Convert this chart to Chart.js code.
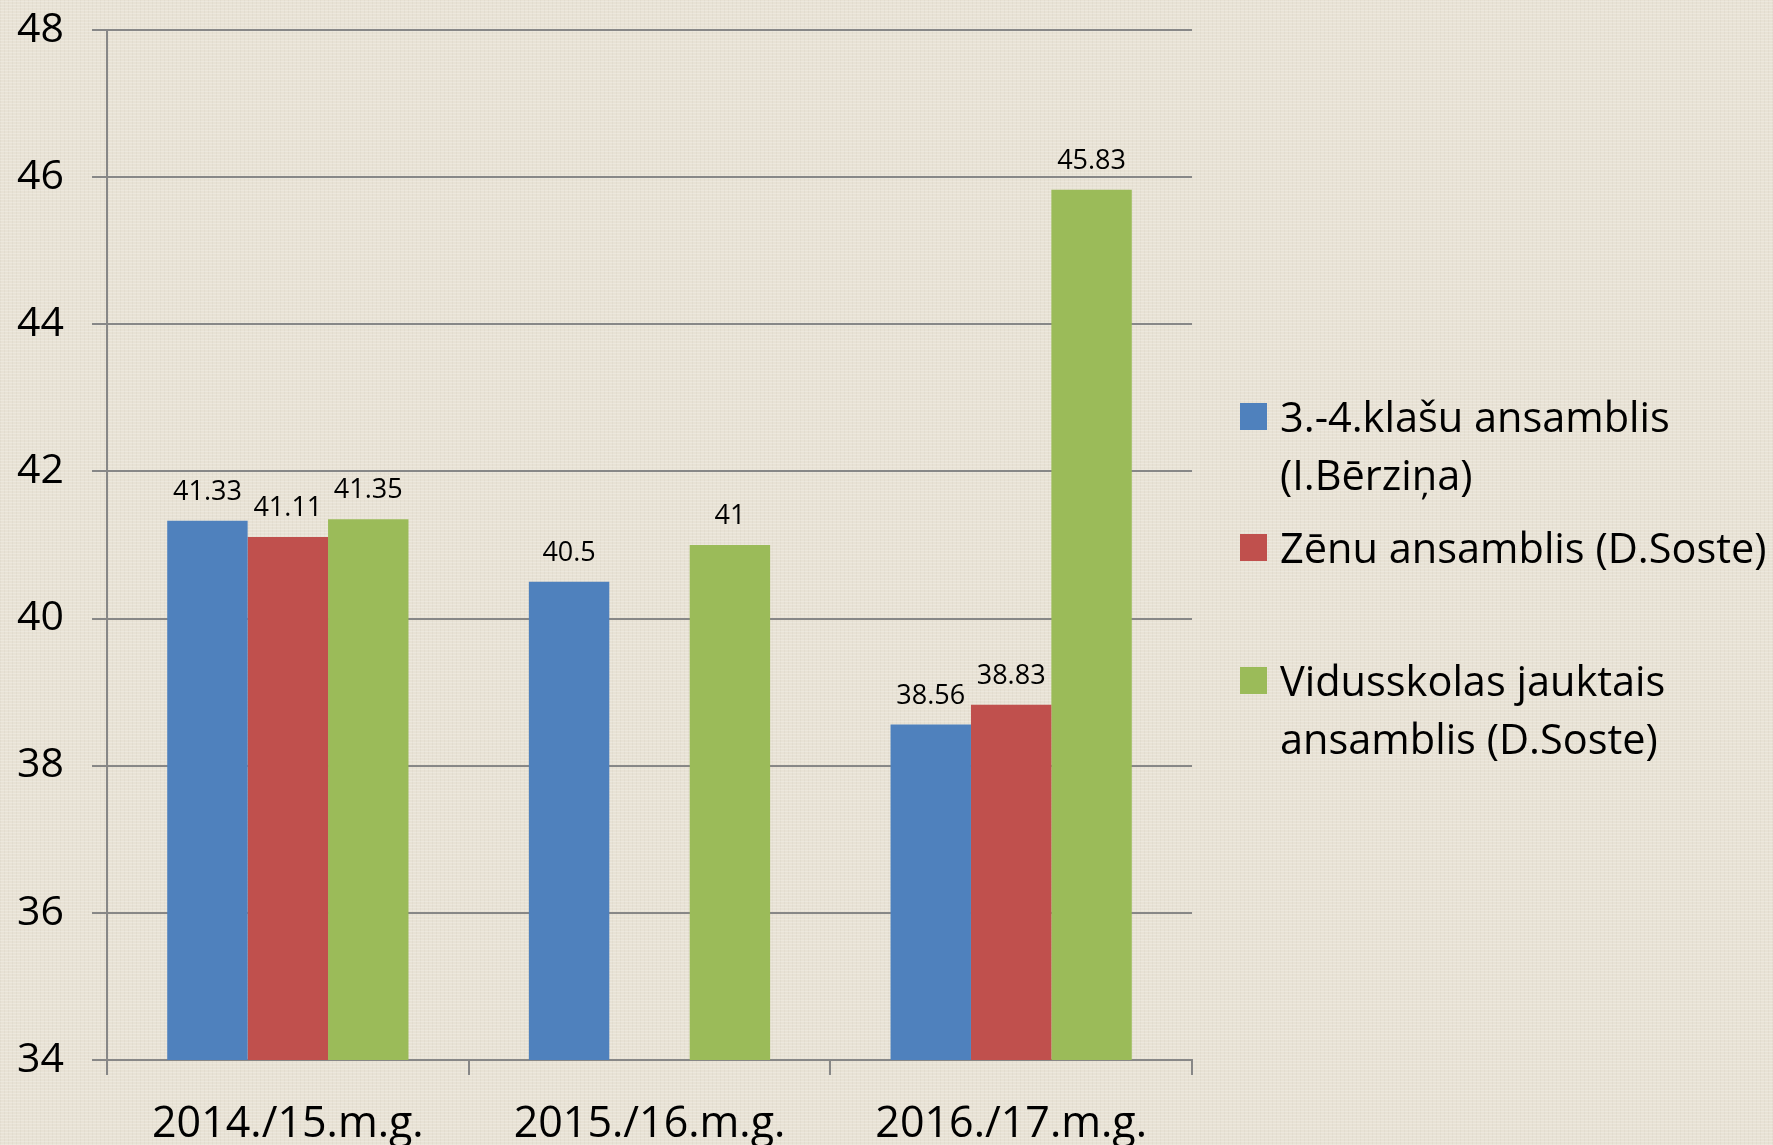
<!DOCTYPE html>
<html>
<head>
<meta charset="utf-8">
<script src="https://cdn.jsdelivr.net/npm/chart.js@4.4.1/dist/chart.umd.min.js"></script>
<style>
  html, body { margin: 0; padding: 0; }
  body {
    width: 1773px; height: 1145px; overflow: hidden; position: relative;
    background-color: #e8e2d5;
    background-image:
      repeating-linear-gradient(0deg, rgba(255,255,255,0.20) 0px, rgba(255,255,255,0.20) 1px, rgba(0,0,0,0) 1px, rgba(0,0,0,0) 3px),
      repeating-linear-gradient(90deg, rgba(120,110,90,0.05) 0px, rgba(120,110,90,0.05) 1px, rgba(0,0,0,0) 1px, rgba(0,0,0,0) 4px);
    font-family: "Open Sans", Lato, sans-serif;
  }
  #wrap { position: absolute; left: 0; top: 0; width: 1773px; height: 1145px; }
  #legend { position: absolute; left: 1240px; top: 0; width: 533px; }
  .item { position: absolute; left: 0; display: flex; align-items: flex-start; }
  .sw { width: 27px; height: 27px; margin-top: 16px; margin-right: 13px; flex: none; }
  .txt { font-size: 41.5px; line-height: 58px; color: #000; max-width: 500px; }
</style>
</head>
<body>
<div id="wrap"><canvas id="c" width="1773" height="1145"></canvas></div>
<div id="legend"></div>
<script>
const categories = ["2014./15.m.g.", "2015./16.m.g.", "2016./17.m.g."];
const seriesNames = ["3.-4.klašu ansamblis (I.Bērziņa)", "Zēnu ansamblis (D.Soste)", "Vidusskolas jauktais ansamblis (D.Soste)"];
const seriesBlue = [41.33, 40.5, 38.56];
const seriesRed = [41.11, null, 38.83];
const seriesGreen = [41.35, 41, 45.83];
const seriesColors = ["#4F81BD", "#C0504D", "#9BBB59"];
const yMin = 34, yMax = 48, yStep = 2;

const seriesValues = [seriesBlue, seriesRed, seriesGreen];
const datasets = seriesNames.map((n, i) => ({
  label: n,
  data: seriesValues[i],
  backgroundColor: seriesColors[i],
  borderWidth: 0,
  barPercentage: 1,
  categoryPercentage: 0.667
}));

const FONT = '"Open Sans", Lato, sans-serif';
const valueLabels = {
  id: 'valueLabels',
  afterDatasetsDraw(chart) {
    const ctx = chart.ctx;
    ctx.save();
    ctx.font = '27px ' + FONT;
    ctx.fillStyle = '#000';
    ctx.textAlign = 'center';
    ctx.textBaseline = 'alphabetic';
    chart.data.datasets.forEach((ds, di) => {
      const meta = chart.getDatasetMeta(di);
      meta.data.forEach((el, i) => {
        const v = ds.data[i];
        if (v === null || v === undefined) return;
        ctx.fillText(String(v), el.x, el.y - 21);
      });
    });
    ctx.restore();
  }
};

const gridColor = '#878787';
new Chart(document.getElementById('c'), {
  type: 'bar',
  data: { labels: categories, datasets },
  options: {
    responsive: false,
    animation: false,
    layout: { padding: { top: 0, right: 581, left: 0, bottom: 0 } },
    plugins: { legend: { display: false }, tooltip: { enabled: false } },
    scales: {
      x: {
        offset: true,
        grid: { display: true, drawOnChartArea: false, drawTicks: true, tickLength: 15, color: gridColor, lineWidth: 2, offset: true },
        border: { display: true, color: gridColor, width: 2 },
        ticks: { color: '#000', font: { family: FONT, size: 43 }, padding: 24 },
        afterFit(s) { s.height = 85; s.paddingLeft = 0; s.paddingRight = 0; }
      },
      y: {
        min: yMin, max: yMax,
        ticks: { stepSize: yStep, color: '#000', font: { family: FONT, size: 41 }, padding: 28 },
        grid: { color: gridColor, lineWidth: 2, tickLength: 15 },
        border: { display: true, color: gridColor, width: 2 },
        afterFit(s) { s.width = 107; s.paddingTop = 30; s.paddingBottom = 0; }
      }
    }
  },
  plugins: [valueLabels]
});

const legend = document.getElementById('legend');
const tops = [387, 518, 651];
seriesNames.forEach((n, i) => {
  const it = document.createElement('div');
  it.className = 'item';
  it.style.top = tops[i] + 'px';
  const sw = document.createElement('div');
  sw.className = 'sw';
  sw.style.background = seriesColors[i];
  const tx = document.createElement('div');
  tx.className = 'txt';
  tx.textContent = n;
  it.appendChild(sw); it.appendChild(tx);
  legend.appendChild(it);
});
</script>
</body>
</html>
